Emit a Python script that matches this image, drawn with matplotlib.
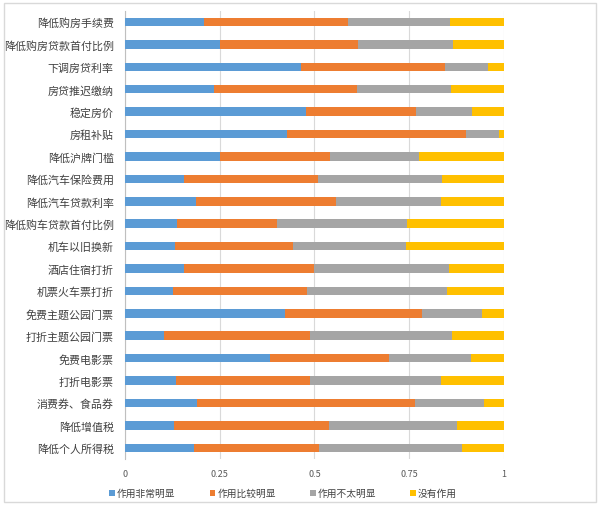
import matplotlib
matplotlib.use('Agg')
import matplotlib.pyplot as plt
from matplotlib.patches import Rectangle
import numpy as np

plt.rcParams['font.family'] = ['Noto Sans CJK SC', 'DejaVu Sans']

# categories from top to bottom
categories = ['降低购房手续费', '降低购房贷款首付比例', '下调房贷利率', '房贷推迟缴纳',
              '稳定房价', '房租补贴', '降低沪牌门槛', '降低汽车保险费用',
              '降低汽车贷款利率', '降低购车贷款首付比例', '机车以旧换新', '酒店住宿打折',
              '机票火车票打折', '免费主题公园门票', '打折主题公园门票', '免费电影票',
              '打折电影票', '消费券、食品券', '降低增值税', '降低个人所得税']

series_names = ['作用非常明显', '作用比较明显', '作用不太明显', '没有作用']
colors = ['#5B9BD5', '#ED7D31', '#A5A5A5', '#FFC000']

very = [0.209, 0.250, 0.465, 0.235, 0.478, 0.428, 0.250, 0.157, 0.188, 0.136,
        0.133, 0.157, 0.127, 0.421, 0.102, 0.383, 0.135, 0.191, 0.129, 0.182]
fairly = [0.380, 0.366, 0.379, 0.376, 0.291, 0.472, 0.290, 0.351, 0.369, 0.265,
          0.309, 0.341, 0.353, 0.363, 0.386, 0.314, 0.354, 0.575, 0.408, 0.331]
not_much = [0.269, 0.249, 0.113, 0.249, 0.146, 0.088, 0.236, 0.328, 0.278, 0.342,
            0.300, 0.357, 0.370, 0.157, 0.376, 0.216, 0.344, 0.182, 0.339, 0.377]
none = [0.142, 0.135, 0.043, 0.140, 0.085, 0.012, 0.224, 0.164, 0.165, 0.257,
        0.258, 0.145, 0.150, 0.059, 0.136, 0.087, 0.167, 0.052, 0.124, 0.110]

data = [very, fairly, not_much, none]

fig = plt.figure(figsize=(6.0, 5.1), dpi=100)
ax = fig.add_axes([0.2083, 0.098, 0.6317, 0.879])

y = np.arange(len(categories))
left = np.zeros(len(categories))
for vals, name, c in zip(data, series_names, colors):
    ax.barh(y, vals, left=left, height=0.38, color=c, label=name, zorder=3)
    left += np.array(vals)

ax.set_ylim(len(categories) - 0.5, -0.5)
ax.set_xlim(0, 1)
ax.set_yticks(y)
ax.set_yticklabels(categories, fontsize=7.9, color='#404040')
ax.set_xticks([0, 0.25, 0.5, 0.75, 1])
ax.set_xticklabels(['0', '0.25', '0.5', '0.75', '1'], fontsize=6.5, color='#595959')
ax.tick_params(axis='both', length=0)
ax.tick_params(axis='y', pad=8)
ax.tick_params(axis='x', pad=7)
ax.grid(axis='x', color='#D9D9D9', linewidth=0.8, zorder=0)
for s in ['top', 'right', 'bottom']:
    ax.spines[s].set_visible(False)
ax.spines['left'].set_color('#BFBFBF')
ax.spines['left'].set_linewidth(0.8)

fig.legend(loc='center', bbox_to_anchor=(0.472, 0.031), ncol=4, frameon=False,
           fontsize=7, handlelength=0.6, handleheight=0.6, handletextpad=0.2,
           columnspacing=3.5, labelcolor='#404040')

# outer chart border
fig.patches.append(Rectangle((0.006, 0.014), 0.988, 0.978, transform=fig.transFigure,
                             fill=False, edgecolor='#D9D9D9', linewidth=1.0))

fig.savefig('out.png', dpi=100)
